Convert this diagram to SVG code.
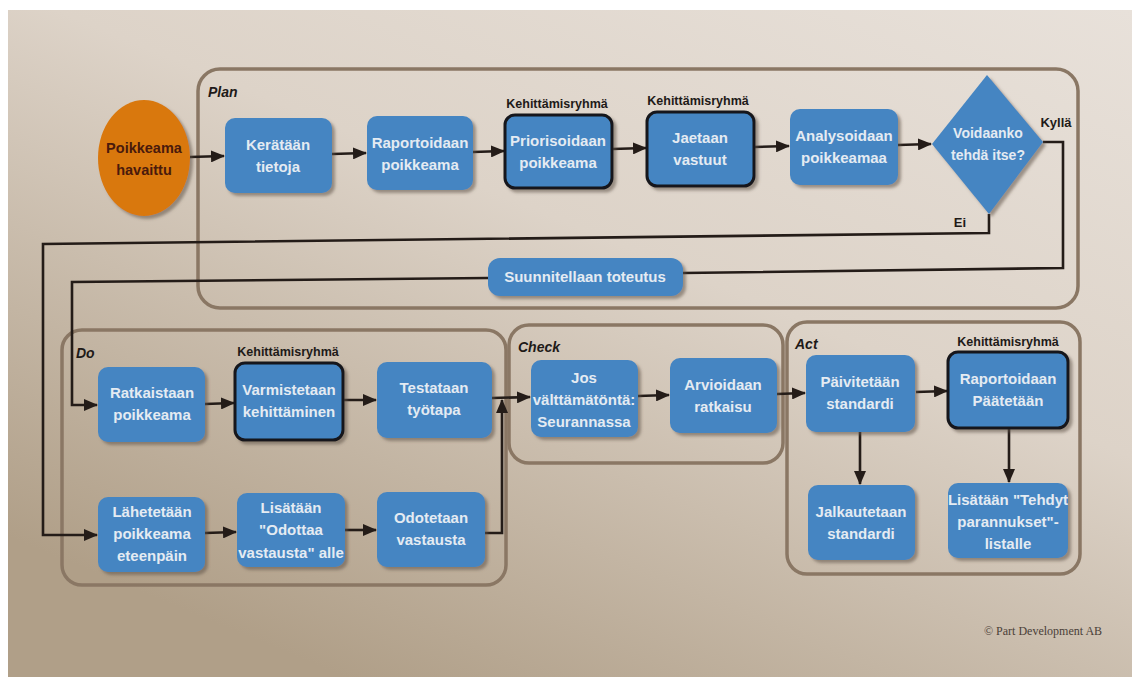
<svg xmlns="http://www.w3.org/2000/svg" width="1132" height="677" viewBox="0 0 1132 677">
  <defs>
    <linearGradient id="bg" x1="1" y1="0" x2="0.3" y2="1">
      <stop offset="0" stop-color="#e8e1da"/>
      <stop offset="0.45" stop-color="#ddd3c8"/>
      <stop offset="1" stop-color="#b09f88"/>
    </linearGradient>
    <filter id="sh" x="-10%" y="-10%" width="130%" height="130%">
      <feDropShadow dx="3" dy="3" stdDeviation="1.8" flood-color="#5e5349" flood-opacity="0.55"/>
    </filter>
    <marker id="ah" markerUnits="userSpaceOnUse" markerWidth="14" markerHeight="12" refX="13" refY="6" orient="auto">
      <path d="M0,0 L14,6 L0,12 z" fill="#241c18"/>
    </marker>
    <style>
      .page { fill: url(#bg); }
      .frame { fill: none; stroke: #8a7764; stroke-width: 3.5; }
      .flabel { font-family: "Liberation Sans", Arial, sans-serif; font-weight: bold; font-style: italic; font-size: 14px; fill: #1e1a18; }
      .box { fill: #4585c2; filter: url(#sh); }
      .team { stroke: #15161a; stroke-width: 3; }
      .bt { font-family: "Liberation Sans", Arial, sans-serif; font-weight: bold; font-size: 15px; fill: #e4ebf2; text-anchor: middle; }
      .dt { font-size: 14px; }
      .grp { font-family: "Liberation Sans", Arial, sans-serif; font-weight: bold; font-size: 12.5px; fill: #1e1a18; text-anchor: middle; }
      .yn { font-family: "Liberation Sans", Arial, sans-serif; font-weight: bold; font-size: 13px; fill: #1e1a18; text-anchor: middle; }
      .con { fill: none; stroke: #241c18; stroke-width: 2.6; }
      .arr { marker-end: url(#ah); }
      .copy { font-family: "Liberation Serif", "Times New Roman", serif; font-size: 12px; fill: #4a4038; }
    </style>
  </defs>

  <rect x="0" y="0" width="1132" height="677" fill="#ffffff"/>
  <rect class="page" x="8" y="10" width="1124" height="667"/>

  <g id="frames">
    <g id="plan"><rect class="frame" x="198" y="69" width="880" height="239" rx="22"/><text class="flabel" x="208" y="97">Plan</text></g>
    <g id="do"><rect class="frame" x="62" y="330" width="444" height="255" rx="20"/><text class="flabel" x="76" y="358">Do</text></g>
    <g id="check"><rect class="frame" x="509" y="325" width="274" height="138" rx="20"/><text class="flabel" x="518" y="352">Check</text></g>
    <g id="act"><rect class="frame" x="787" y="322" width="293" height="252" rx="20"/><text class="flabel" x="795" y="349">Act</text></g>
  </g>

  <g id="connectors">
    <path class="con arr" d="M190,157 L224,156"/>
    <path class="con arr" d="M332,154 L366,153"/>
    <path class="con arr" d="M473,152 L504,151"/>
    <path class="con arr" d="M612,149 L646,148"/>
    <path class="con arr" d="M754,147 L789,146"/>
    <path class="con arr" d="M898,145 L931,144"/>
    <path class="con" d="M1043,142 L1063,142 L1063,268 L683,273"/>
    <path class="con arr" d="M488,278 L72,282 L72,405 L97,405"/>
    <path class="con arr" d="M989,214 L989,233 L43,244 L43,535 L97,535"/>
    <path class="con arr" d="M205,404 L234,403"/>
    <path class="con arr" d="M343,400 L376,400"/>
    <path class="con arr" d="M492,398 L530,397"/>
    <path class="con arr" d="M485,533 L502,533 L502,400"/>
    <path class="con arr" d="M205,533 L236,532"/>
    <path class="con arr" d="M345,530 L376,530"/>
    <path class="con arr" d="M638,396 L669,395"/>
    <path class="con arr" d="M777,394 L805,393"/>
    <path class="con arr" d="M916,392 L947,391"/>
    <path class="con arr" d="M860,432 L860,484"/>
    <path class="con arr" d="M1009,428 L1009,482"/>
    <text class="yn" x="1056" y="127">Kyllä</text>
    <text class="yn" x="960" y="227">Ei</text>
  </g>

  <g id="n-start">
    <ellipse cx="144" cy="158" rx="46" ry="58" fill="#d9780f" filter="url(#sh)"/>
    <text x="144" y="153" font-family="Liberation Sans, Arial, sans-serif" font-weight="bold" font-size="14.5" fill="#4a1a0c" text-anchor="middle">Poikkeama</text>
    <text x="144" y="175" font-family="Liberation Sans, Arial, sans-serif" font-weight="bold" font-size="14.5" fill="#4a1a0c" text-anchor="middle">havaittu</text>
  </g>

  <g id="n-keratan"><rect class="box" x="225" y="118" width="107" height="75" rx="10"/>
    <text class="bt" x="278" y="150">Kerätään</text><text class="bt" x="278" y="172">tietoja</text></g>
  <g id="n-raportoidaan"><rect class="box" x="367" y="116" width="106" height="74" rx="10"/>
    <text class="bt" x="420" y="148">Raportoidaan</text><text class="bt" x="420" y="170">poikkeama</text></g>
  <g id="n-priorisoidaan"><text class="grp" x="557" y="108">Kehittämisryhmä</text>
    <rect class="box team" x="505" y="115" width="107" height="73" rx="10"/>
    <text class="bt" x="558" y="146">Priorisoidaan</text><text class="bt" x="558" y="168">poikkeama</text></g>
  <g id="n-jaetaan"><text class="grp" x="698" y="105">Kehittämisryhmä</text>
    <rect class="box team" x="647" y="112" width="107" height="74" rx="10"/>
    <text class="bt" x="700" y="143">Jaetaan</text><text class="bt" x="700" y="165">vastuut</text></g>
  <g id="n-analysoidaan"><rect class="box" x="790" y="109" width="108" height="76" rx="10"/>
    <text class="bt" x="844" y="141">Analysoidaan</text><text class="bt" x="844" y="163">poikkeamaa</text></g>
  <g id="n-voidaanko"><polygon class="box" points="987,75 1043,142 989,214 932,144"/>
    <text class="bt dt" x="988" y="138">Voidaanko</text><text class="bt dt" x="988" y="160">tehdä itse?</text></g>
  <g id="n-suunnitellaan"><rect class="box" x="488" y="258" width="195" height="38" rx="12"/>
    <text class="bt" x="585" y="282">Suunnitellaan toteutus</text></g>

  <g id="n-ratkaistaan"><rect class="box" x="98" y="367" width="107" height="75" rx="10"/>
    <text class="bt" x="152" y="398">Ratkaistaan</text><text class="bt" x="152" y="420">poikkeama</text></g>
  <g id="n-varmistetaan"><text class="grp" x="288" y="356">Kehittämisryhmä</text>
    <rect class="box team" x="235" y="363" width="108" height="77" rx="10"/>
    <text class="bt" x="289" y="395">Varmistetaan</text><text class="bt" x="289" y="417">kehittäminen</text></g>
  <g id="n-testataan"><rect class="box" x="377" y="362" width="115" height="76" rx="10"/>
    <text class="bt" x="434" y="393">Testataan</text><text class="bt" x="434" y="415">työtapa</text></g>
  <g id="n-lahetetaan"><rect class="box" x="98" y="497" width="107" height="75" rx="10"/>
    <text class="bt" x="152" y="517">Lähetetään</text><text class="bt" x="152" y="539">poikkeama</text><text class="bt" x="152" y="561">eteenpäin</text></g>
  <g id="n-lisataan-odottaa"><rect class="box" x="237" y="493" width="108" height="74" rx="10"/>
    <text class="bt" x="291" y="513">Lisätään</text><text class="bt" x="291" y="535">"Odottaa</text><text class="bt" x="291" y="558">vastausta" alle</text></g>
  <g id="n-odotetaan"><rect class="box" x="377" y="492" width="108" height="75" rx="10"/>
    <text class="bt" x="431" y="523">Odotetaan</text><text class="bt" x="431" y="545">vastausta</text></g>

  <g id="n-jos"><rect class="box" x="531" y="360" width="107" height="77" rx="10"/>
    <text class="bt" x="584" y="383">Jos</text><text class="bt" x="584" y="405">välttämätöntä:</text><text class="bt" x="584" y="427">Seurannassa</text></g>
  <g id="n-arvioidaan"><rect class="box" x="670" y="358" width="107" height="75" rx="10"/>
    <text class="bt" x="723" y="390">Arvioidaan</text><text class="bt" x="723" y="412">ratkaisu</text></g>

  <g id="n-paivitetaan"><rect class="box" x="806" y="355" width="109" height="77" rx="10"/>
    <text class="bt" x="860" y="387">Päivitetään</text><text class="bt" x="860" y="409">standardi</text></g>
  <g id="n-raportoidaan-paatetaan"><text class="grp" x="1008" y="346">Kehittämisryhmä</text>
    <rect class="box team" x="948" y="352" width="120" height="76" rx="10"/>
    <text class="bt" x="1008" y="384">Raportoidaan</text><text class="bt" x="1008" y="406">Päätetään</text></g>
  <g id="n-jalkautetaan"><rect class="box" x="808" y="485" width="107" height="75" rx="10"/>
    <text class="bt" x="861" y="517">Jalkautetaan</text><text class="bt" x="861" y="539">standardi</text></g>
  <g id="n-lisataan-tehdyt"><rect class="box" x="948" y="483" width="120" height="75" rx="10"/>
    <text class="bt" x="1008" y="505">Lisätään "Tehdyt</text><text class="bt" x="1008" y="527">parannukset"-</text><text class="bt" x="1008" y="549">listalle</text></g>

  <text class="copy" x="984" y="635">© Part Development AB</text>
</svg>
